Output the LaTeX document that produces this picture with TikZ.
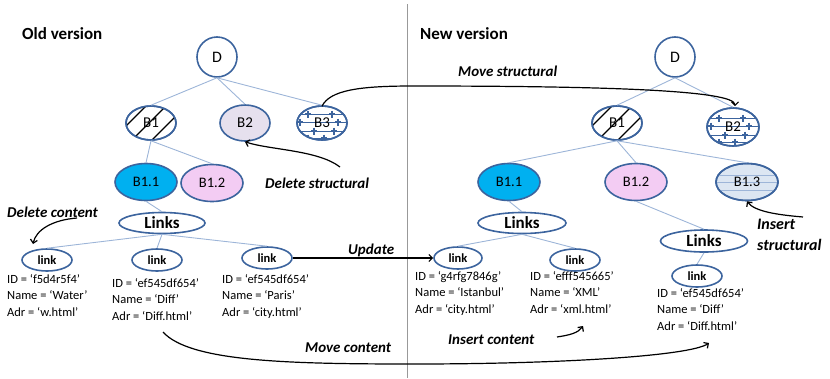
\documentclass[tikz,border=0pt]{standalone}
\usepackage{fontspec}
\setmainfont{Carlito}
\usetikzlibrary{arrows.meta,shapes.geometric,calc}

\definecolor{nodeline}{HTML}{3C649E}
\definecolor{edgeline}{HTML}{9DB5D8}
\definecolor{cyanfill}{HTML}{00B0F0}
\definecolor{pinkfill}{HTML}{F3CCF3}
\definecolor{lavfill}{HTML}{E6E0EE}
\definecolor{paleblue}{HTML}{DCE6F2}

\tikzset{
  oval/.style={ellipse, draw=nodeline, line width=1.6pt, inner sep=0pt, font=\fontsize{15}{17}\selectfont},
  dnode/.style={oval, circle, minimum size=40pt, font=\fontsize{16}{18}\selectfont},
  bnode/.style={oval, minimum width=50pt, minimum height=34pt},
  leaf/.style={oval, minimum width=62pt, minimum height=37pt, font=\fontsize{14.5}{17}\selectfont},
  linksnode/.style={oval, minimum width=86pt, minimum height=21pt, font=\fontsize{17}{19}\selectfont\bfseries},
  linknode/.style={oval, minimum width=50pt, minimum height=22pt, font=\fontsize{12.5}{14}\selectfont\bfseries},
  edge/.style={draw=edgeline, line width=0.9pt},
  arr/.style={draw=black, line width=1.2pt, -{Straight Barb[length=3.5pt,width=7pt]}},
  attr/.style={anchor=north west, align=left, inner sep=0pt, font=\fontsize{12.5}{16.5}\selectfont},
  op/.style={font=\fontsize{15}{18}\selectfont\bfseries\itshape, inner sep=0pt},
  title/.style={font=\fontsize{17}{19}\selectfont\bfseries, inner sep=0pt, anchor=west},
}

% diagonal hatching clipped to an ellipse around node #1
\newcommand{\hatchfill}[1]{%
  \begin{scope}
    \clip (#1) ellipse [x radius=25pt, y radius=17pt];
    \foreach \d in {-22,-2,18}
      \draw[black, line width=1.1pt] ($(#1)+(\d-20,20)$) -- ($(#1)+(\d+20,-20)$);
  \end{scope}}

% horizontal rules with small crosses, clipped to an ellipse around node #1
\newcommand{\starfill}[2]{%
  \begin{scope}
    \clip (#1) ellipse [x radius=26pt, y radius=#2];
    \foreach \dy in {-9,-1,8,15}
      \draw[nodeline, line width=0.9pt] ($(#1)+(-30,\dy)$) -- ($(#1)+(30,\dy)$);
    \foreach \dx/\dy in {-14/-9, 10/-9, -22/-1, 16/-1, -8/8, 12/8, 2/15, -14/15, 22/15}
      \draw[nodeline, line width=1.1pt] ($(#1)+(\dx-3,\dy)$) -- ($(#1)+(\dx+3,\dy)$)
                                        ($(#1)+(\dx,\dy-3.5)$) -- ($(#1)+(\dx,\dy+3.5)$);
  \end{scope}}

\begin{document}
\begin{tikzpicture}[x=1pt, y=-1pt]
  \useasboundingbox (0,0) rectangle (830,378);

  % divider between the two versions
  \coordinate (divtop) at (407,4);
  \coordinate (divbot) at (407,378);
  \draw[gray!80, line width=0.9pt] (divtop) -- (divbot);

  \node[title] (oldtitle) at (22,34) {Old version};
  \node[title] (newtitle) at (420,34) {New version};

  % ---------- old version ----------
  \node[dnode] (Do) at (217,57) {D};
  \node[bnode] (B1o) at (151,123) {};
  \node[bnode, fill=lavfill, minimum height=36pt] (B2o) at (245,123) {B2};
  \node[bnode] (B3o) at (322,123) {};
  \node[leaf, fill=cyanfill] (B11o) at (146,182) {B1.1};
  \node[leaf, fill=pinkfill] (B12o) at (212,183) {B1.2};

  \hatchfill{B1o}
  \node[bnode] (B1olabel) at (B1o) {B1};
  \starfill{B3o}{17.5pt}
  \node[bnode] (B3olabel) at (B3o) {B3};

  \node[linksnode] (Lo) at (162,223) {Links};
  \node[linknode] (l1o) at (47,260) {link};
  \node[linknode] (l2o) at (157,260) {link};
  \node[linknode] (l3o) at (267,258) {link};

  \draw[edge] (Do.south) -- (B1o.north);
  \draw[edge] (Do.south) -- (B2o.north);
  \draw[edge] (Do.south) -- (B3o.north);
  \draw[edge] (B1o.south) -- (B11o.north);
  \draw[edge] (B1o.south) -- (B12o.north);
  \draw[edge] (B11o.south) -- (Lo.north);
  \draw[edge] (Lo.south) -- (l1o.north);
  \draw[edge] (Lo.south) -- (l2o.north);
  \draw[edge] (Lo.south) -- (l3o.north);

  \node[attr] (a1o) at (7,274) {ID = `f5d4r5f4'\\Name = `Water'\\Adr = `w.html'};
  \node[attr] (a2o) at (112,278) {ID = `ef545df654'\\Name = `Diff'\\Adr = `Diff.html'};
  \node[attr] (a3o) at (222,274) {ID = `ef545df654'\\Name = `Paris'\\Adr = `city.html'};

  % ---------- new version ----------
  \node[dnode] (Dn) at (675,57) {D};
  \node[bnode] (B1n) at (617,123) {};
  \node[bnode, minimum width=52pt, minimum height=38pt] (B2n) at (733,127) {};
  \node[leaf, fill=cyanfill] (B11n) at (509,182) {B1.1};
  \node[leaf, fill=pinkfill] (B12n) at (636,182) {B1.2};
  \node[leaf, fill=paleblue] (B13n) at (747,182) {};

  \hatchfill{B1n}
  \node[bnode] (B1nlabel) at (B1n) {B1};
  \starfill{B2n}{19pt}
  \node[bnode, minimum width=52pt, minimum height=38pt] (B2nlabel) at (B2n) {B2};
  \begin{scope}
    \clip (B13n) ellipse [x radius=31pt, y radius=18.5pt];
    \foreach \dy in {-7,0,8}
      \draw[edgeline, line width=0.8pt] ($(B13n)+(-32,\dy)$) -- ($(B13n)+(32,\dy)$);
  \end{scope}
  \node[leaf] (B13nlabel) at (B13n) {B1.3};

  \node[linksnode, minimum width=88pt] (L1n) at (522,223) {Links};
  \node[linksnode, minimum width=87pt, minimum height=22pt] (L2n) at (704,241) {Links};
  \node[linknode, minimum width=48pt] (l1n) at (458,258) {link};
  \node[linknode] (l2n) at (575,260) {link};
  \node[linknode] (l3n) at (697,276) {link};

  \draw[edge] (Dn.south) -- (B1n.north);
  \draw[edge] (Dn.south) -- (B2n.north);
  \draw[edge] (B1n.south) -- (B11n.north);
  \draw[edge] (B1n.south) -- (B12n.north);
  \draw[edge] (B1n.south) -- (B13n.north);
  \draw[edge] (B11n.south) -- (L1n.north);
  \draw[edge] (B12n.south) -- (L2n.north);
  \draw[edge] (L1n.south) -- (l1n.north);
  \draw[edge] (L1n.south) -- (l2n.north);
  \draw[edge] (L2n.south) -- (l3n.north);

  \node[attr] (a1n) at (415,271) {ID = `g4rfg7846g'\\Name = `Istanbul'\\Adr = `city.html'};
  \node[attr] (a2n) at (530,271) {ID = `efff545665'\\Name = `XML'\\Adr = `xml.html'};
  \node[attr] (a3n) at (657,288) {ID = `ef545df654'\\Name = `Diff'\\Adr = `Diff.html'};

  % ---------- change operations ----------
  \node[op, anchor=west] (opms) at (458,71) {Move structural};
  \node[op, anchor=west] (opds) at (265,183) {Delete structural};
  \node[op, anchor=west] (opdc) at (7,212) {Delete content};
  \node[op, anchor=west] (opup) at (348,250) {Update};
  \node[op, anchor=west] (opmc) at (305,348) {Move content};
  \node[op, anchor=west] (opic) at (448,340) {Insert content};
  \node[op, anchor=north west, align=left, font=\fontsize{16}{21}\selectfont\bfseries\itshape] (opis) at (757,219) {Insert\\structural};

  \coordinate (msstart) at ($(B3o.north)+(0,1)$);
  \coordinate (msmid) at (413,86);
  \coordinate (msend) at ($(B2n.north)+(2,-1)$);
  \draw[arr] (msstart) .. controls (330,90) and (360,86) .. (msmid)
                       .. controls (600,86) and (735,90) .. (msend);

  \coordinate (dsstart) at (340,167);
  \draw[arr] (dsstart) .. controls (318,150) and (270,150) .. (B2o.south);

  \coordinate (dcstart) at (77,218);
  \coordinate (dcend) at (33,244);
  \draw[arr] (dcstart) .. controls (52,220) and (36,230) .. (dcend);

  \draw[arr] (l3o.east) -- (l1n.west);

  \coordinate (mcstart) at (163,332);
  \coordinate (mcmid) at (415,364);
  \coordinate (mcend) at (709,343);
  \draw[arr] (mcstart) .. controls (190,362) and (290,364) .. (mcmid)
                       .. controls (560,364) and (690,356) .. (mcend);

  \coordinate (icstart) at (557,337);
  \coordinate (icend) at (583,326);
  \draw[arr] (icstart) .. controls (570,335) and (578,333) .. (icend);

  \coordinate (isstart) at (803,217);
  \draw[arr] (isstart) .. controls (780,215) and (755,212) .. (B13n.south);
\end{tikzpicture}
\end{document}
